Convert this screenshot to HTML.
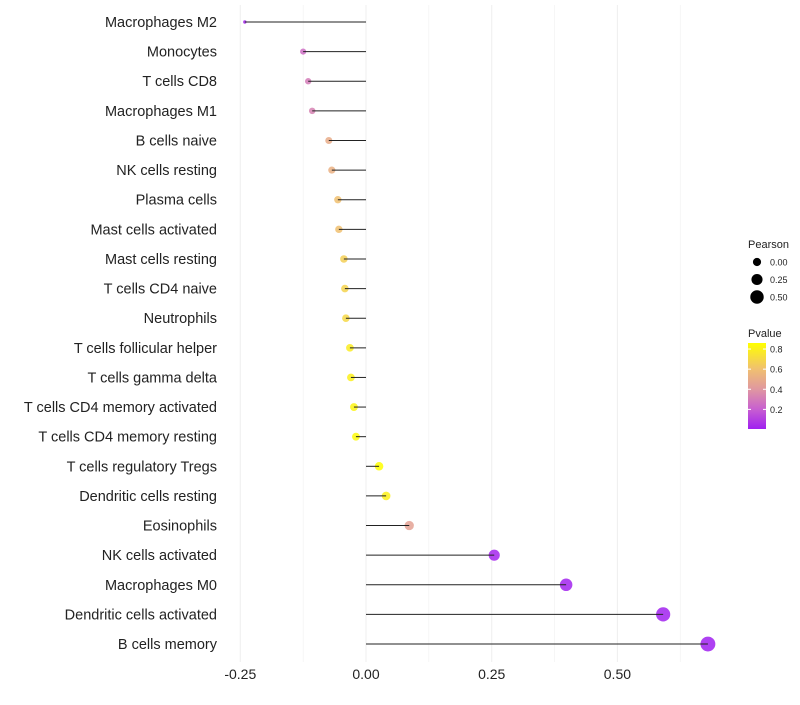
<!DOCTYPE html>
<html><head><meta charset="utf-8"><style>
body{margin:0;background:#fff;font-family:"Liberation Sans",sans-serif;}
svg text{font-family:"Liberation Sans",sans-serif;}
</style></head><body>
<svg id="chart" width="800" height="700"></svg>
<script>
const categories=["Macrophages M2","Monocytes","T cells CD8","Macrophages M1","B cells naive","NK cells resting","Plasma cells","Mast cells activated","Mast cells resting","T cells CD4 naive","Neutrophils","T cells follicular helper","T cells gamma delta","T cells CD4 memory activated","T cells CD4 memory resting","T cells regulatory  Tregs","Dendritic cells resting","Eosinophils","NK cells activated","Macrophages M0","Dendritic cells activated","B cells memory"];
const pearson=[-0.241,-0.125,-0.115,-0.107,-0.074,-0.068,-0.056,-0.054,-0.044,-0.042,-0.040,-0.032,-0.030,-0.024,-0.020,0.026,0.040,0.086,0.255,0.398,0.591,0.680];
const pvalues=[0.02,0.25,0.3,0.32,0.5,0.52,0.6,0.6,0.66,0.68,0.7,0.78,0.8,0.82,0.84,0.87,0.8,0.45,0.02,0.01,0.005,0.0];
const xTicks=[-0.25,0,0.25,0.5];
const xTickLabels=["-0.25","0.00","0.25","0.50"];
const sizeLegend=[0,0.25,0.5];
const pTicks=[0.2,0.4,0.6,0.8];

const NS="http://www.w3.org/2000/svg";
const svg=document.getElementById('chart');
function mk(t,a,p){const e=document.createElementNS(NS,t);for(const k in a)e.setAttribute(k,a[k]);(p||svg).appendChild(e);return e;}
const x=v=>366+(v)*502.8;
const y=i=>22+i*29.62;
const r=v=>Math.sqrt(Math.max(0.5,3+57*(v+0.24)));
const stops=[[0,[160,32,240]],[0.2,[200,96,208]],[0.4,[224,152,160]],[0.6,[240,192,112]],[0.86,[255,255,0]]];
function col(p){p=Math.max(0,Math.min(0.86,p));for(let i=1;i<stops.length;i++){if(p<=stops[i][0]){const a=stops[i-1],b=stops[i],t=(p-a[0])/(b[0]-a[0]);const c=a[1].map((v,k)=>Math.round(v+(b[1][k]-v)*t));return `rgb(${c})`;}}return 'rgb(255,255,0)';}
for(let v=-0.25;v<=0.626;v+=0.125){const g=mk('line',{x1:x(v),x2:x(v),y1:5,y2:662,stroke:'#f0f0f0','stroke-width':Math.abs((v/0.25)%1)<1e-6?1.1:0.6});
}
xTicks.forEach((v,i)=>{const t=mk('text',{x:x(v),y:679,'text-anchor':'middle','font-size':14,fill:'#222'});t.textContent=xTickLabels[i];
});
categories.forEach((c,i)=>{
const t=mk('text',{x:217,y:y(i)+5,'text-anchor':'end','font-size':14.5,fill:'#222'});t.textContent=c;

const d=mk('circle',{cx:x(pearson[i]),cy:y(i),r:r(pearson[i]),fill:col(pvalues[i]),'fill-opacity':0.85});

const l=mk('line',{x1:x(0),x2:x(pearson[i]),y1:y(i),y2:y(i),stroke:'#222','stroke-width':1});

});
let t=mk('text',{x:748,y:248,'font-size':11,fill:'#222'});t.textContent='Pearson';

sizeLegend.forEach((v,i)=>{const cy=262+i*17.5;const c=mk('circle',{cx:757,cy:cy,r:r(v),fill:'#000'});

const tt=mk('text',{x:770,y:cy+3.5,'font-size':9,fill:'#222'});tt.textContent=v.toFixed(2);
});
t=mk('text',{x:748,y:337,'font-size':11,fill:'#222'});t.textContent='Pvalue';

const defs=mk('defs',{});const lg=mk('linearGradient',{id:'pg',x1:0,y1:1,x2:0,y2:0},defs);
stops.forEach(s=>mk('stop',{offset:s[0]/0.86,'stop-color':`rgb(${s[1]})`},lg));
const pb=mk('rect',{x:748,y:343,width:18,height:86,fill:'url(#pg)'});

pTicks.forEach(p=>{const yy=429-(p-0.005)/0.855*86;
mk('line',{x1:748,x2:751,y1:yy,y2:yy,stroke:'#fff'});mk('line',{x1:763,x2:766,y1:yy,y2:yy,stroke:'#fff'});
const tt=mk('text',{x:770,y:yy+3.5,'font-size':9,fill:'#222'});tt.textContent=p.toFixed(1);
});
</script>
</body></html>
